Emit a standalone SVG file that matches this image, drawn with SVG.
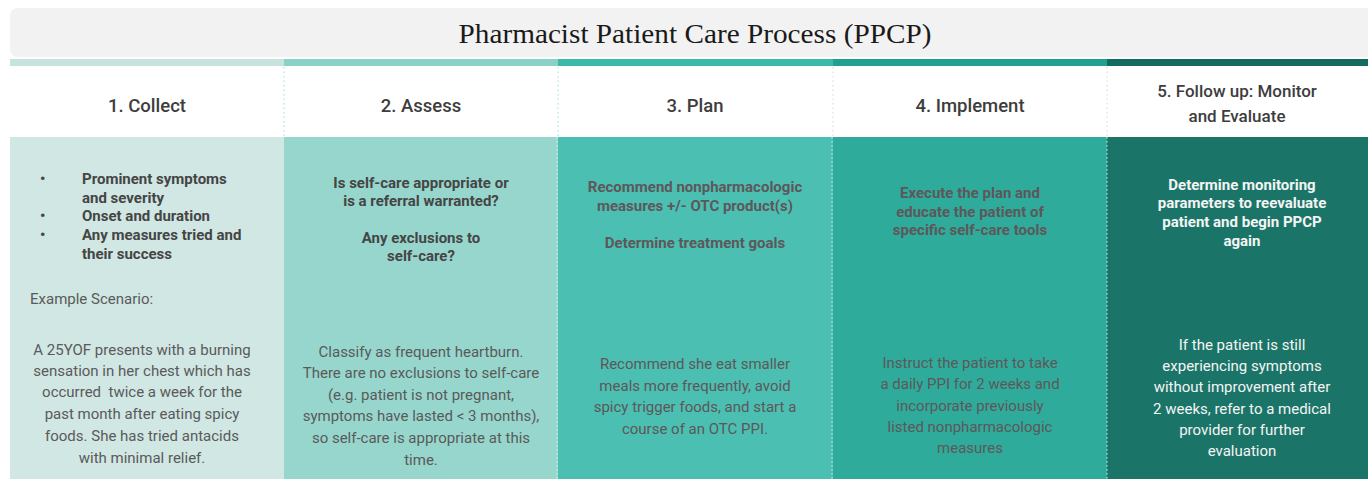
<svg xmlns="http://www.w3.org/2000/svg" width="1368" height="479" viewBox="0 0 1368 479">
  <style>
    .title { font-family: "Liberation Serif", Georgia, serif; font-size: 28px; fill: #1a1a1a; }
    .head { font-family: Roboto, "Liberation Sans", sans-serif; font-size: 18.5px; font-weight: 500; fill: #3d3d3d; text-anchor: middle; }
    .head5 { font-size: 17px; }
    .key { font-family: Roboto, "Liberation Sans", sans-serif; font-size: 15px; font-weight: 700; fill: #454545; }
    .body { font-family: Roboto, "Liberation Sans", sans-serif; font-size: 15px; fill: #5a5a5a; }
    .mid { text-anchor: middle; }
    .dim { fill: #5e575a; }
    .light { fill: #f4f4f4; }
    .sepHead { stroke-width: 1.2; stroke-dasharray: 1.5 3; }
    .sepBody { stroke: #e8f6f3; stroke-opacity: 0.75; stroke-width: 1.2; stroke-dasharray: 1.5 2.5; }
  </style>

  <rect width="1368" height="479" fill="#ffffff"/>

  <!-- title bar -->
  <g id="title">
    <rect x="10" y="8" width="1370" height="49" rx="8" fill="#f2f2f2"/>
    <text class="title" x="695" y="43" text-anchor="middle" textLength="473" lengthAdjust="spacingAndGlyphs">Pharmacist Patient Care Process (PPCP)</text>
  </g>

  <!-- step 1 -->
  <g id="step-collect">
    <rect x="10" y="59" width="274" height="7" fill="#c7e3de"/>
    <rect x="10" y="137" width="274" height="342" fill="#d0e7e3"/>
    <text class="head" x="147" y="112">1. Collect</text>
    <g class="key">
      <text x="40" y="184">•</text>
      <text x="82" y="184">Prominent symptoms</text>
      <text x="82" y="203">and severity</text>
      <text x="40" y="221">•</text>
      <text x="82" y="221">Onset and duration</text>
      <text x="40" y="240">•</text>
      <text x="82" y="240">Any measures tried and</text>
      <text x="82" y="259">their success</text>
    </g>
    <text class="body" x="30" y="304">Example Scenario:</text>
    <g class="body mid">
      <text x="142" y="355">A 25YOF presents with a burning</text>
      <text x="142" y="376">sensation in her chest which has</text>
      <text x="142" y="397" xml:space="preserve">occurred  twice a week for the</text>
      <text x="142" y="419">past month after eating spicy</text>
      <text x="142" y="441">foods. She has tried antacids</text>
      <text x="142" y="463">with minimal relief.</text>
    </g>
  </g>

  <!-- step 2 -->
  <g id="step-assess">
    <rect x="284" y="59" width="274" height="7" fill="#8ad2c7"/>
    <rect x="284" y="137" width="274" height="342" fill="#97d6cd"/>
    <text class="head" x="421" y="112">2. Assess</text>
    <g class="key mid">
      <text x="421" y="188">Is self-care appropriate or</text>
      <text x="421" y="206">is a referral warranted?</text>
      <text x="421" y="243">Any exclusions to</text>
      <text x="421" y="261">self-care?</text>
    </g>
    <g class="body mid">
      <text x="421" y="357">Classify as frequent heartburn.</text>
      <text x="421" y="378">There are no exclusions to self-care</text>
      <text x="421" y="400">(e.g. patient is not pregnant,</text>
      <text x="421" y="421">symptoms have lasted &lt; 3 months),</text>
      <text x="421" y="443">so self-care is appropriate at this</text>
      <text x="421" y="465">time.</text>
    </g>
  </g>

  <!-- step 3 -->
  <g id="step-plan">
    <rect x="558" y="59" width="275" height="7" fill="#3db9aa"/>
    <rect x="558" y="137" width="275" height="342" fill="#4bbfb1"/>
    <text class="head" x="695" y="112">3. Plan</text>
    <g class="key mid dim">
      <text x="695" y="192">Recommend nonpharmacologic</text>
      <text x="695" y="211">measures +/- OTC product(s)</text>
      <text x="695" y="248">Determine treatment goals</text>
    </g>
    <g class="body mid dim">
      <text x="695" y="369">Recommend she eat smaller</text>
      <text x="695" y="391">meals more frequently, avoid</text>
      <text x="695" y="412">spicy trigger foods, and start a</text>
      <text x="695" y="434">course of an OTC PPI.</text>
    </g>
  </g>

  <!-- step 4 -->
  <g id="step-implement">
    <rect x="833" y="59" width="274" height="7" fill="#20a18f"/>
    <rect x="833" y="137" width="274" height="342" fill="#2fab9b"/>
    <text class="head" x="970" y="112">4. Implement</text>
    <g class="key mid dim">
      <text x="970" y="198">Execute the plan and</text>
      <text x="970" y="217">educate the patient of</text>
      <text x="970" y="235">specific self-care tools</text>
    </g>
    <g class="body mid dim">
      <text x="970" y="368">Instruct the patient to take</text>
      <text x="970" y="389">a daily PPI for 2 weeks and</text>
      <text x="970" y="411">incorporate previously</text>
      <text x="970" y="432">listed nonpharmacologic</text>
      <text x="970" y="453">measures</text>
    </g>
  </g>

  <!-- step 5 -->
  <g id="step-follow-up">
    <rect x="1107" y="59" width="261" height="7" fill="#136b5f"/>
    <rect x="1107" y="137" width="261" height="342" fill="#1b7468"/>
    <text class="head head5" x="1237" y="97">5. Follow up: Monitor</text>
    <text class="head head5" x="1237" y="122">and Evaluate</text>
    <g class="key mid light">
      <text x="1242" y="190">Determine monitoring</text>
      <text x="1242" y="208">parameters to reevaluate</text>
      <text x="1242" y="227">patient and begin PPCP</text>
      <text x="1242" y="246">again</text>
    </g>
    <g class="body mid light">
      <text x="1242" y="350">If the patient is still</text>
      <text x="1242" y="371">experiencing symptoms</text>
      <text x="1242" y="392">without improvement after</text>
      <text x="1242" y="414">2 weeks, refer to a medical</text>
      <text x="1242" y="435">provider for further</text>
      <text x="1242" y="456">evaluation</text>
    </g>
  </g>

  <!-- dotted column dividers -->
  <g id="dividers">
    <line class="sepHead" x1="284" y1="67" x2="284" y2="137" stroke="#a6e4e3"/>
    <line class="sepHead" x1="558" y1="67" x2="558" y2="137" stroke="#a6e4e3"/>
    <line class="sepHead" x1="833" y1="67" x2="833" y2="137" stroke="#dcdcdc"/>
    <line class="sepHead" x1="1107" y1="67" x2="1107" y2="137" stroke="#dcdcdc"/>
    <line class="sepBody" x1="557" y1="137" x2="557" y2="479"/>
    <line class="sepBody" x1="832" y1="137" x2="832" y2="479"/>
    <line class="sepBody" x1="1107" y1="137" x2="1107" y2="479"/>
  </g>
</svg>
